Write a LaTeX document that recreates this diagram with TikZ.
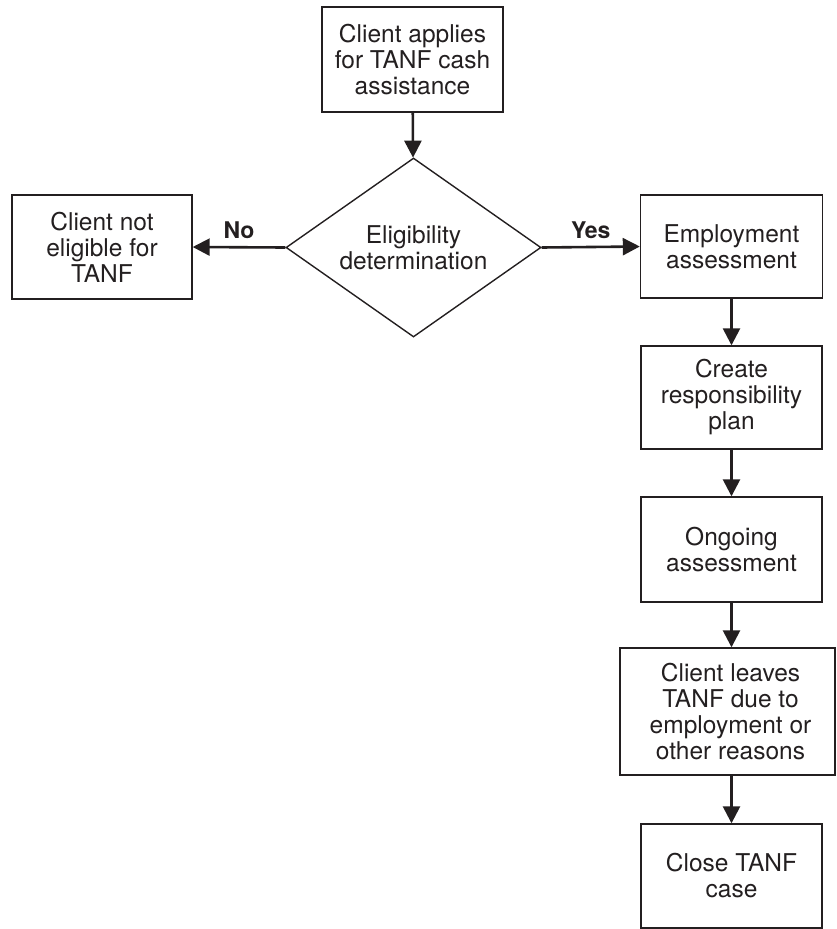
\documentclass[tikz,border=0pt]{standalone}
\usepackage{fontspec}
\setmainfont{TeX Gyre Heros}
\usetikzlibrary{shapes.geometric,arrows.meta}
\definecolor{ink}{HTML}{231F20}
\tikzset{
  box/.style={draw=ink, line width=1.4pt, rectangle, inner sep=0pt, align=center,
    text=ink, font=\fontsize{24.5}{26}\selectfont},
  flow/.style={draw=ink, line width=2.6pt, -{Triangle[width=17pt,length=17pt]}},
  lbl/.style={text=ink, font=\fontsize{23}{25}\selectfont\bfseries, inner sep=0pt}
}
\begin{document}
\begin{tikzpicture}[x=1pt,y=-1pt]
\useasboundingbox (0,0) rectangle (836,929);
\clip (0,0) rectangle (836,929);
\node[box, minimum width=181pt, minimum height=105pt] (apply) at (412.5,59.5) {Client applies\\for TANF cash\\assistance};
\node[box, shape=diamond, aspect=1.42, minimum width=255pt, minimum height=179pt] (elig) at (413.5,247.5) {Eligibility\\determination};
\node[box, minimum width=180pt, minimum height=104pt] (noelig) at (102,247) {Client not\\eligible for\\TANF};
\node[box, minimum width=182pt, minimum height=103pt] (emp) at (731.5,246.5) {Employment\\assessment};
\node[box, minimum width=181pt, minimum height=103pt] (plan) at (731.5,397.5) {Create\\responsibility\\plan};
\node[box, minimum width=181pt, minimum height=105pt] (ongo) at (731.5,549.5) {Ongoing\\assessment};
\node[box, minimum width=215pt, minimum height=127pt] (leave) at (727.5,711.5) {\hspace*{6pt}Client leaves\\\hspace*{6pt}TANF due to\\\hspace*{6pt}employment or\\\hspace*{6pt}other reasons};
\node[box, minimum width=181pt, minimum height=104pt] (close) at (731.5,876) {Close TANF\\case};
\draw[flow] (apply) -- (elig);
\draw[flow] (elig.west) -- (noelig.east) node[lbl, midway, above=7pt] (no) {No};
\draw[flow] (elig.east) -- (emp.west) node[lbl, midway, above=7pt] (yes) {Yes};
\draw[flow] (emp) -- (plan);
\draw[flow] (plan) -- (ongo);
\draw[flow] (ongo.south) -- (ongo.south |- leave.north);
\draw[flow] (close.north |- leave.south) -- (close.north);
\end{tikzpicture}
\end{document}
